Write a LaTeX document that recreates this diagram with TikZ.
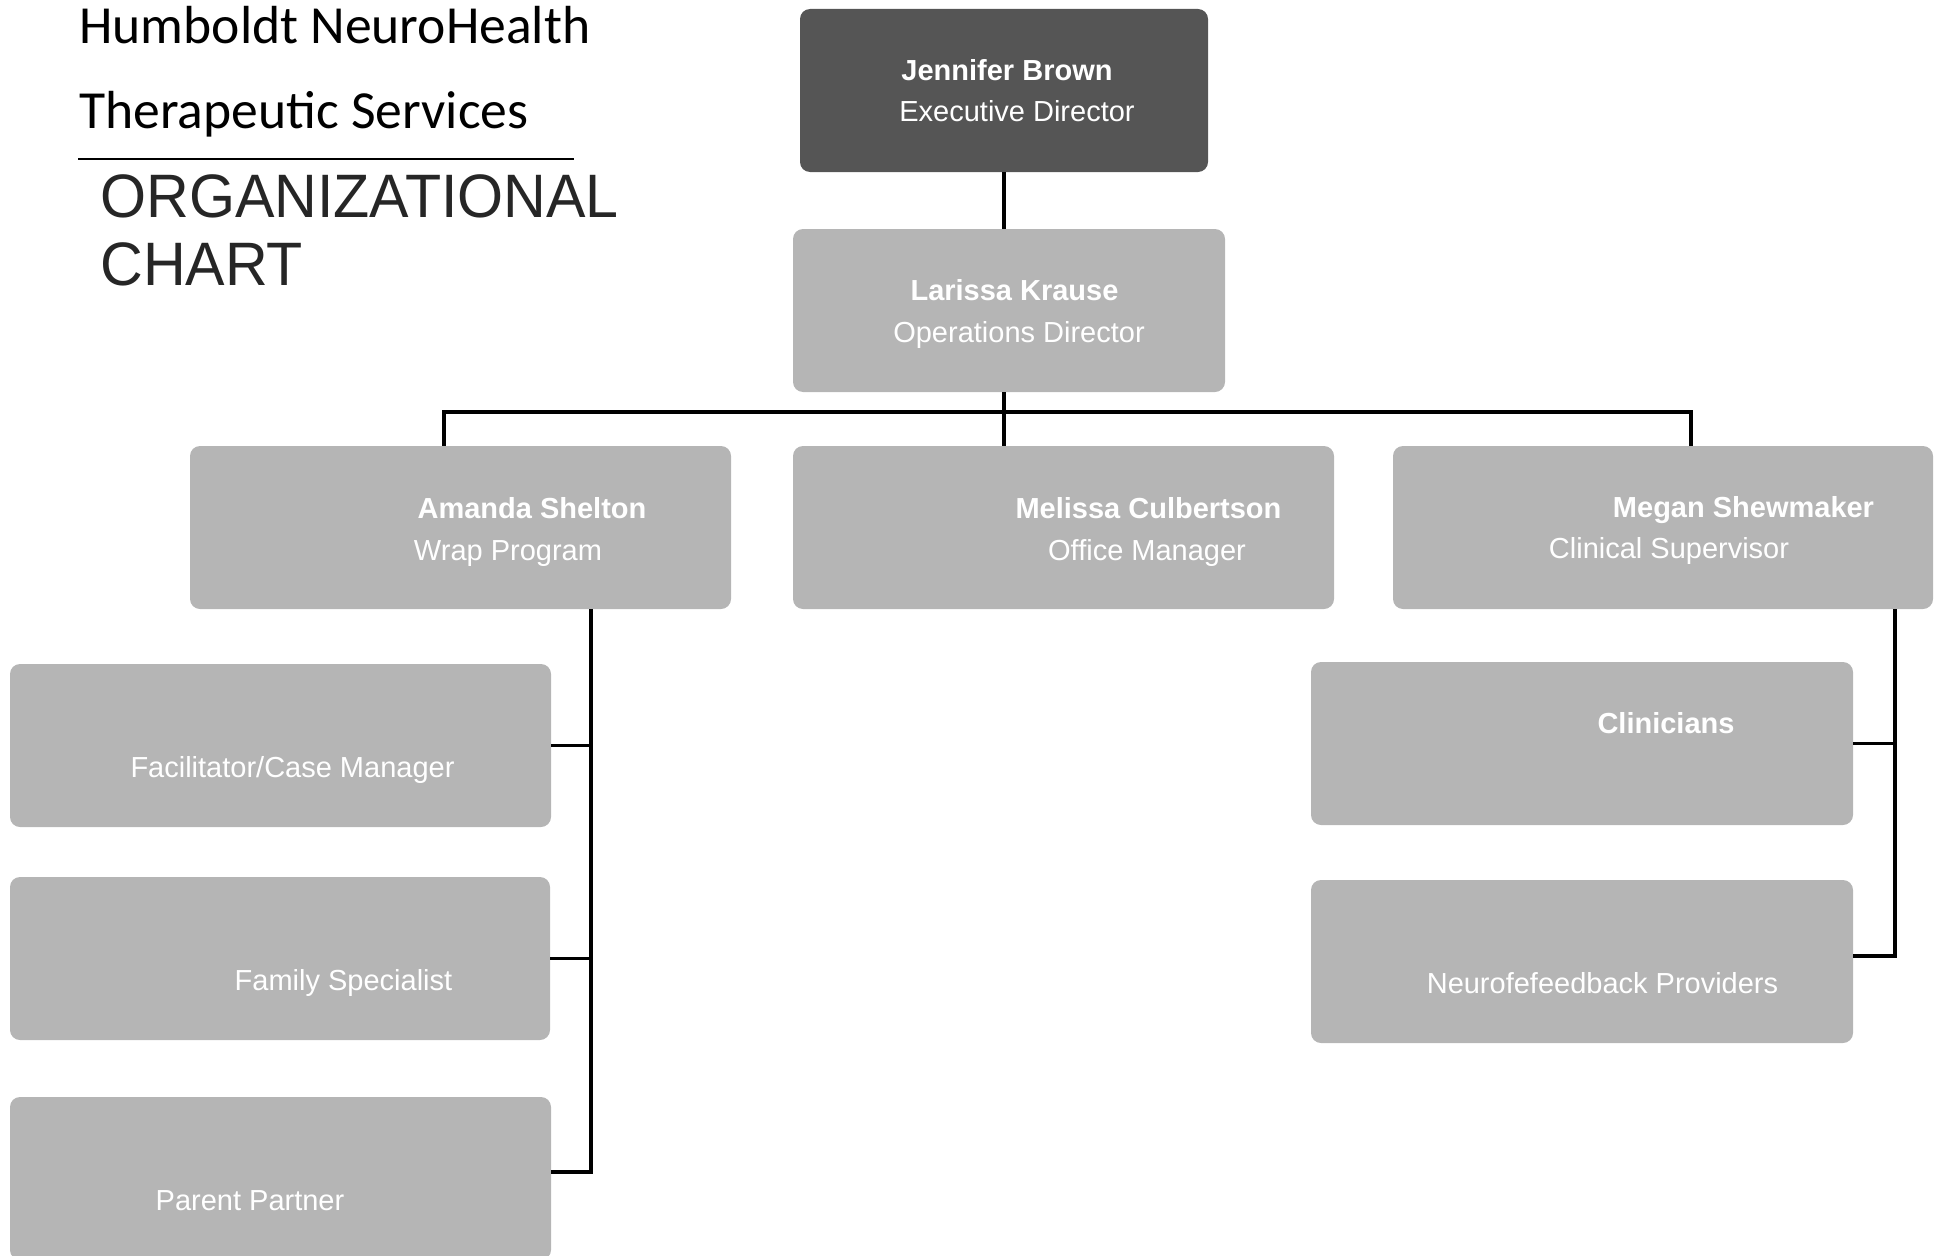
\documentclass[tikz,border=0pt]{standalone}
\usepackage{fontspec}
\usepackage{graphicx}
\setmainfont{Liberation Sans}
\newfontfamily\calfont{Carlito}
\definecolor{boxgray}{HTML}{B5B5B5}
\definecolor{topgray}{HTML}{555555}
\definecolor{titlegray}{HTML}{262626}
\tikzset{
	box/.style 2 args={rectangle, rounded corners=7.5pt, fill=boxgray, inner sep=0pt,
		minimum width=#1*0.75pt, minimum height=#2*0.75pt},
	person/.style={anchor=base, inner sep=0pt, text=white, font=\fontsize{21.75pt}{26pt}\selectfont\bfseries},
	post/.style={anchor=base, inner sep=0pt, text=white, font=\fontsize{21.75pt}{26pt}\selectfont},
	heading/.style={anchor=base west, inner sep=0pt},
	link/.style={line width=2.5pt},
}

\begin{document}
\begin{tikzpicture}[x=0.75pt,y=-0.75pt]
		\useasboundingbox (0,0) rectangle (1934,1256);
		% title block
		\node[heading, font=\calfont\fontsize{40.2pt}{48pt}\selectfont] (org) at (79,44) {Humboldt NeuroHealth};
		\node[heading, font=\calfont\fontsize{40.2pt}{48pt}\selectfont] (svc) at (79,128) {Therapeutic Services};
		\coordinate (ruleL) at (78,159);
		\coordinate (ruleR) at (574,159);
		\draw[line width=1.6pt] (ruleL) -- (ruleR);
		\node[heading, text=titlegray, font=\fontsize{46pt}{55pt}\selectfont] (hd1) at (100,217) {\scalebox{0.965}[1]{ORGANIZATIONAL}};
		\node[heading, text=titlegray, font=\fontsize{46pt}{55pt}\selectfont] (hd2) at (100,285) {\scalebox{0.965}[1]{CHART}};

		% boxes
		\node[box={408}{163}, fill=topgray] (jb) at (1004,90.5) {};
		\node[box={432}{163}] (lk) at (1009,310.5) {};
		\node[box={541}{163}] (as) at (460.5,527.5) {};
		\node[box={541}{163}] (mc) at (1063.5,527.5) {};
		\node[box={540}{163}] (ms) at (1663,527.5) {};
		\node[box={541}{163}] (fc) at (280.5,745.5) {};
		\node[box={540}{163}] (fs) at (280,958.5) {};
		\node[box={541}{163}] (pp) at (280.5,1178.5) {};
		\node[box={542}{163}] (cl) at (1582,743.5) {};
		\node[box={542}{163}] (np) at (1582,961.5) {};

		% texts
		\node[person] (jbname) at (1007,80) {Jennifer Brown};
		\node[post] (jbpost) at (1017,122) {Executive Director};
		\node[person] (lkname) at (1014.5,300) {Larissa Krause};
		\node[post] (lkpost) at (1019,342) {Operations Director};
		\node[person] (asname) at (532,518) {Amanda Shelton};
		\node[post] (aspost) at (508,560) {Wrap Program};
		\node[person] (mcname) at (1148.5,518) {Melissa Culbertson};
		\node[post] (mcpost) at (1147,560) {Office Manager};
		\node[person] (msname) at (1743.5,517) {Megan Shewmaker};
		\node[post] (mspost) at (1669,558) {Clinical Supervisor};
		\node[post] (fcpost) at (292.5,777) {Facilitator/Case Manager};
		\node[post] (fspost) at (343.5,990) {Family Specialist};
		\node[post] (pppost) at (250,1210) {Parent Partner};
		\node[person] (clname) at (1666,733) {Clinicians};
		\node[post] (nppost) at (1602.5,993) {Neurofefeedback Providers};

		% connectors
		\coordinate (busL) at (444,412);
		\coordinate (busR) at (1691,412);
		\coordinate (wrapline) at (591,0);
		\coordinate (clinline) at (1895,0);
		\coordinate (ppjoin) at ([yshift=4.9pt]pp.east);
		\coordinate (npjoin) at ([yshift=4.1pt]np.east);
		\draw[link] (jb.south) -- (jb.south |- lk.north);
		\draw[link] (jb.south |- lk.south) -- (jb.south |- mc.north);
		\draw[link] (busL |- as.north) -- (busL) -- (busR) -- (busR |- ms.north);
		\draw[link] (as.south -| wrapline) -- (ppjoin -| wrapline) -- (ppjoin);
		\draw[link] (fc.east) -- (fc.east -| wrapline);
		\draw[link] (fs.east) -- (fs.east -| wrapline);
		\draw[link] (ms.south -| clinline) -- (npjoin -| clinline) -- (npjoin);
		\draw[link] (cl.east) -- (cl.east -| clinline);
	\end{tikzpicture}
\end{document}
